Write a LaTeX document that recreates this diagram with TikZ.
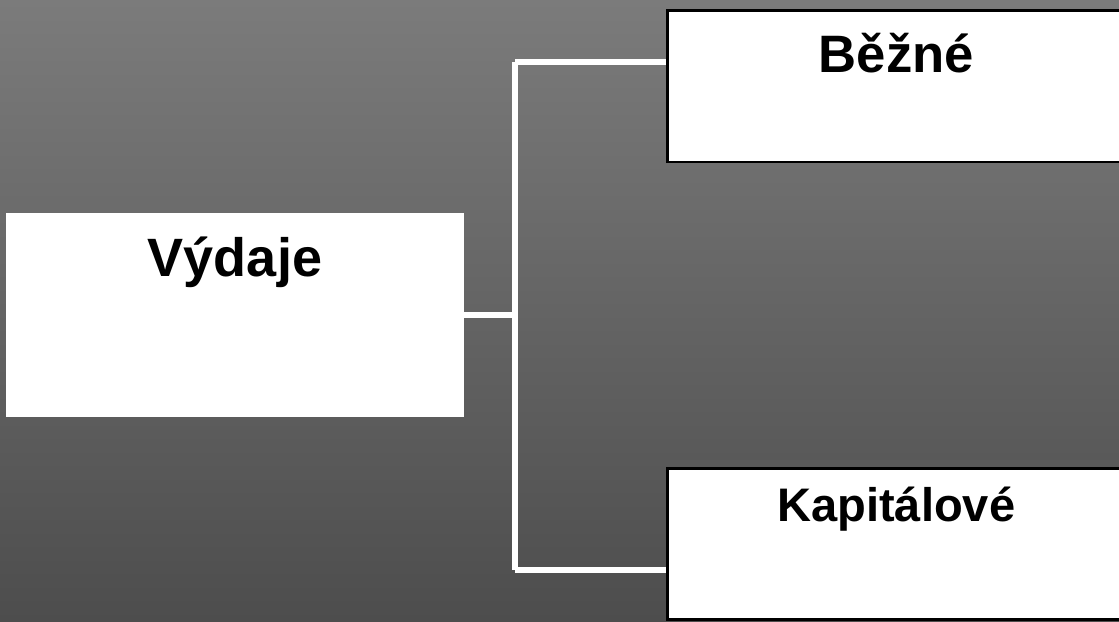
\documentclass[tikz,border=0pt]{standalone}
\usepackage{fontspec}
\setmainfont{Liberation Sans}
\usepackage{xcolor}
\usepackage{tikz}
\usetikzlibrary{positioning}

\definecolor{bgtop}{HTML}{7B7B7B}
\definecolor{bgbottom}{HTML}{4D4D4D}

\begin{document}
\begin{tikzpicture}[x=0.75pt, y=-0.75pt, box/.style={rectangle, fill=white, inner sep=0pt, outer sep=0pt, minimum width=343.5pt, anchor=north west}, link/.style={draw=white, line width=4.5pt}]
\fill[top color=bgtop, bottom color=bgbottom] (0,0) rectangle (1119,621);
\useasboundingbox (0,0) rectangle (1119,621);
\node[box, text height=47.25pt, text depth=105.75pt, font=\bfseries\fontsize{40.5}{40.5}\selectfont] at (6,213) (vydaje) {Výdaje};
\node[box, draw=black, line width=2pt, text height=46.9pt, text depth=66.75pt, font=\bfseries\fontsize{39.5}{39.5}\selectfont] at (667.3,10.3) (bezne) {Běžné};
\node[box, draw=black, line width=2pt, text height=40.1pt, text depth=73.1pt, font=\bfseries\fontsize{35.3}{35.3}\selectfont] at (667.3,468.5) (kapitalove) {Kapitálové};
\coordinate (fork) at (515,316);
\coordinate (forktop) at (515,62);
\coordinate (forkbot) at (515,570);
\draw[link] (vydaje.east) -- (vydaje.east -| fork);
\draw[link] (forktop) -- (forkbot);
\draw[link, shorten >=1pt] (forktop) -- (forktop -| bezne.west);
\draw[link, shorten >=1pt] (forkbot) -- (forkbot -| kapitalove.west);
\end{tikzpicture}
\end{document}
